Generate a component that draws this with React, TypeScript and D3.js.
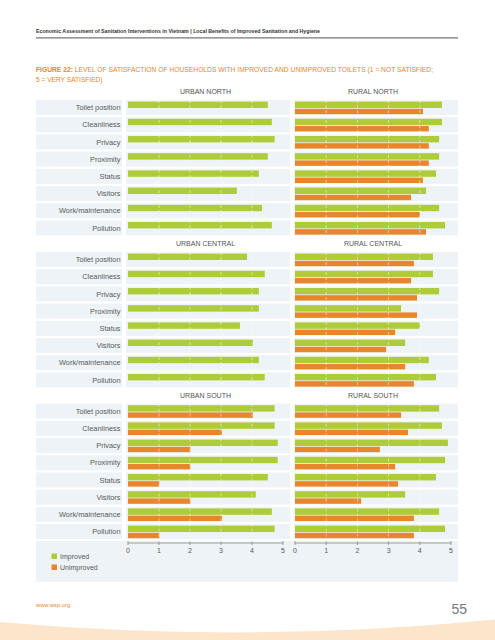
import React from "react";
import * as d3 from "d3";

const categories = ["Toilet position", "Cleanliness", "Privacy", "Proximity", "Status", "Visitors", "Work/maintenance", "Pollution"];
const leftTitles = ["URBAN NORTH", "URBAN CENTRAL", "URBAN SOUTH"];
const rightTitles = ["RURAL NORTH", "RURAL CENTRAL", "RURAL SOUTH"];
const ticks = [0, 1, 2, 3, 4, 5];

const urbanNorthImproved = [4.51, 4.64, 4.73, 4.51, 4.22, 3.51, 4.32, 4.64];
const urbanNorthUnimproved = [0, 0, 0, 0, 0, 0, 0, 0];
const ruralNorthImproved = [4.71, 4.71, 4.62, 4.62, 4.52, 4.2, 4.62, 4.81];
const ruralNorthUnimproved = [4.1, 4.29, 4.29, 4.29, 4.1, 3.72, 4.0, 4.2];
const urbanCentralImproved = [3.84, 4.41, 4.22, 4.22, 3.61, 4.03, 4.22, 4.41];
const urbanCentralUnimproved = [0, 0, 0, 0, 0, 0, 0, 0];
const ruralCentralImproved = [4.42, 4.42, 4.62, 3.4, 4.0, 3.53, 4.29, 4.52];
const ruralCentralUnimproved = [3.81, 3.72, 3.91, 3.91, 3.21, 2.92, 3.53, 3.81];
const urbanSouthImproved = [4.73, 4.73, 4.83, 4.83, 4.51, 4.12, 4.64, 4.73];
const urbanSouthUnimproved = [4.03, 3.03, 2.01, 2.01, 1.01, 2.01, 3.03, 1.01];
const ruralSouthImproved = [4.62, 4.71, 4.9, 4.81, 4.52, 3.53, 4.62, 4.81];
const ruralSouthUnimproved = [3.4, 3.62, 2.72, 3.21, 3.3, 2.12, 3.81, 3.81];

const leftImproved = [urbanNorthImproved, urbanCentralImproved, urbanSouthImproved];
const leftUnimproved = [urbanNorthUnimproved, urbanCentralUnimproved, urbanSouthUnimproved];
const rightImproved = [ruralNorthImproved, ruralCentralImproved, ruralSouthImproved];
const rightUnimproved = [ruralNorthUnimproved, ruralCentralUnimproved, ruralSouthUnimproved];

const GREEN = "#aecb3a";
const ORANGE = "#e8862b";
const BAND = "#edf3f6";
const TEXT = "#5a5a5a";
const FONT = "'Liberation Sans', Arial, Helvetica, sans-serif";

export default function App() {
  const W = 495, H = 640;
  const xL = d3.scaleLinear().domain([0, 5]).range([128, 283]);
  const xR = d3.scaleLinear().domain([0, 5]).range([295, 451]);
  const pitch = 17.2;
  const bandH = 15;
  const sectionTops = [100, 252, 403.6];

  const panel = (x: d3.ScaleLinear<number, number>, bx0: number, bx1: number, top: number, title: string, imp: number[], unimp: number[], key: string) => {
    const y = d3.scaleBand<string>().domain(categories).range([top, top + pitch * 8]).padding(0);
    return (
      <g key={key}>
        <text x={(x(0) + x(5)) / 2} y={top - 6} textAnchor="middle" fontSize={7} fill="#555" fontFamily={FONT}>{title}</text>
        {categories.map((c) => (
          <rect key={"b" + c} x={bx0} y={y(c)} width={bx1 - bx0} height={bandH} fill={BAND} />
        ))}
        {categories.map((c, i) => (
          <g key={"r" + c}>
            <rect x={x(0)} y={(y(c) as number) + 1.6} width={x(imp[i]) - x(0)} height={6.4} fill={GREEN} />
            {unimp[i] > 0 && (
              <rect x={x(0)} y={(y(c) as number) + 8.8} width={x(unimp[i]) - x(0)} height={5.4} fill={ORANGE} />
            )}
          </g>
        ))}
        {[1, 2, 3, 4].map((t) => (
          <line key={"g" + t} x1={x(t)} x2={x(t)} y1={top} y2={top + pitch * 8 - 2} stroke="#fff" strokeWidth={0.7} strokeDasharray="3,2" opacity={0.7} />
        ))}
      </g>
    );
  };

  const axis = (x: d3.ScaleLinear<number, number>, key: string) => (
    <g key={key}>
      <line x1={x(0)} x2={x(5)} y1={543} y2={543} stroke="#888" strokeWidth={0.8} />
      {ticks.map((t) => (
        <g key={t}>
          <line x1={x(t)} x2={x(t)} y1={t === 0 || t === 5 ? 541 : 541.5} y2={545} stroke="#888" strokeWidth={0.8} />
          <text x={x(t)} y={553} textAnchor="middle" fontSize={7} fill={TEXT} fontFamily={FONT}>{t}</text>
        </g>
      ))}
    </g>
  );

  return (
    <svg width={W} height={H} style={{ position: "absolute", left: 0, top: 0, background: "#fff" }}>
      <rect x={0} y={0} width={W} height={H} fill="#fff" />
      <text x={36} y={33} fontSize={5.4} fontWeight="bold" fill="#333" fontFamily={FONT} textLength={284} lengthAdjust="spacingAndGlyphs">
        Economic Assessment of Sanitation Interventions in Vietnam | Local Benefits of Improved Sanitation and Hygiene
      </text>
      <line x1={36} x2={458} y1={37.8} y2={37.8} stroke="#777" strokeWidth={1.3} />

      <text x={36} y={71.5} fontSize={6.6} fill={ORANGE} fontFamily={FONT} textLength={397} lengthAdjust="spacingAndGlyphs">
        <tspan fontWeight="bold">FIGURE 22:</tspan> LEVEL OF SATISFACTION OF HOUSEHOLDS WITH IMPROVED AND UNIMPROVED TOILETS (1 = NOT SATISFIED;
      </text>
      <text x={36} y={81.5} fontSize={6.6} fill={ORANGE} fontFamily={FONT}>5 = VERY SATISFIED)</text>

      {sectionTops.map((top, s) => {
        const y = d3.scaleBand<string>().domain(categories).range([top, top + pitch * 8]).padding(0);
        return (
          <g key={"lab" + s}>
            {categories.map((c) => (
              <g key={c}>
                <rect x={36} y={y(c)} width={86} height={bandH} fill={BAND} />
                <text x={120.5} y={(y(c) as number) + bandH / 2 + 2.6} textAnchor="end" fontSize={7.4} fill={TEXT} fontFamily={FONT}>{c}</text>
              </g>
            ))}
          </g>
        );
      })}

      {sectionTops.map((top, s) => panel(xL, 126, 290, top, leftTitles[s], leftImproved[s], leftUnimproved[s], "L" + s))}
      {sectionTops.map((top, s) => panel(xR, 294, 458, top, rightTitles[s], rightImproved[s], rightUnimproved[s], "R" + s))}

      <rect x={36} y={540.8} width={422} height={41} fill={BAND} />
      {axis(xL, "axL")}
      {axis(xR, "axR")}

      <rect x={51.5} y={553.5} width={5.5} height={5.5} fill={GREEN} />
      <text x={60} y={558.8} fontSize={7} fill={TEXT} fontFamily={FONT}>Improved</text>
      <rect x={51.5} y={564.5} width={5.5} height={5.5} fill={ORANGE} />
      <text x={60} y={569.8} fontSize={7} fill={TEXT} fontFamily={FONT}>Unimproved</text>

      <text x={36} y={606.5} fontSize={5.8} fill={ORANGE} fontFamily={FONT}>www.wsp.org</text>
      <text x={467} y={614} textAnchor="end" fontSize={14} fill="#777" fontFamily={FONT}>55</text>

      <path d="M0,622 Q248,644 495,619.5 L495,640 L0,640 Z" fill="#fce5cb" />
    </svg>
  );
}
